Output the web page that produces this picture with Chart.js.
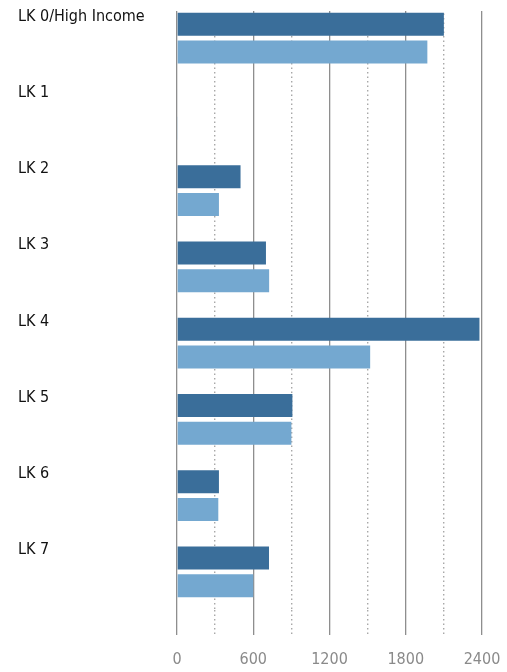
<!DOCTYPE html>
<html>
<head>
<meta charset="utf-8">
<script src="https://cdn.jsdelivr.net/npm/chart.js"></script>
<style>
  body { margin: 0; background: #fff; }
  #wrap { width: 507px; height: 672px; }
</style>
</head>
<body>
<div id="wrap"><canvas id="lkChart"></canvas></div>
<script>
const categories = ["LK 0/High Income", "LK 1", "LK 2", "LK 3", "LK 4", "LK 5", "LK 6", "LK 7"];
const darkValues = [2100, 5, 500, 700, 2380, 908, 330, 724];
const lightValues = [1970, 4, 330, 725, 1520, 900, 325, 600];
const xTicks = [0, 600, 1200, 1800, 2400];

const FONT = "'Liberation Sans Narrow', 'DejaVu Sans Condensed', 'Roboto', sans-serif";

// grid lines in the original start a little below the top edge
const trimTop = {
  id: "trimTop",
  beforeDatasetsDraw(chart) {
    const { ctx, chartArea } = chart;
    ctx.save();
    ctx.fillStyle = "#fff";
    ctx.fillRect(chartArea.left - 2, 0, chartArea.right - chartArea.left + 4, 11);
    ctx.restore();
  },
};

const isMajor = (v) => xTicks.includes(v);

const ctx = document.getElementById("lkChart").getContext("2d");

const chart = new Chart(ctx, {
  type: "bar",
  data: {
    // blank lines push the label up to the top of its band
    labels: categories.map((c) => [c, "", ""]),
    datasets: [
      {
        label: "Series A",
        data: darkValues,
        backgroundColor: "rgb(58, 110, 154)",
        categoryPercentage: 0.73,
        barPercentage: 0.83,
      },
      {
        label: "Series B",
        data: lightValues,
        backgroundColor: "rgb(116, 168, 208)",
        categoryPercentage: 0.73,
        barPercentage: 0.83,
      },
    ],
  },
  options: {
    indexAxis: "y",
    responsive: true,
    maintainAspectRatio: false,
    animation: false,
    layout: {
      padding: { left: 18, right: 25, top: 0, bottom: 0 },
    },
    scales: {
      x: {
        min: 0,
        max: 2400,
        ticks: {
          stepSize: 300,
          autoSkip: false,
          maxRotation: 0,
          minRotation: 0,
          color: "#8a8a8a",
          padding: 15,
          font: { family: FONT, size: 16 },
          callback: (v) => (isMajor(v) ? v : ""),
        },
        grid: {
          color: (c) => (isMajor(c.tick.value) ? "#8e8e8e" : "#a8a8a8"),
          lineWidth: (c) => (isMajor(c.tick.value) ? 1.3 : 1.4),
          tickColor: (c) => (isMajor(c.tick.value) ? "#8e8e8e" : "#a8a8a8"),
          tickWidth: (c) => (isMajor(c.tick.value) ? 1.3 : 1.4),
          tickBorderDash: (c) => (isMajor(c.tick.value) ? [] : [1.5, 3]),
          tickLength: 25,
        },
        border: {
          display: false,
          dash: (c) => (isMajor(c.tick.value) ? [] : [1.5, 3]),
        },
        afterFit: (s) => {
          s.height = 62;
          s.paddingLeft = 0;
          s.paddingRight = 0;
        },
      },
      y: {
        ticks: {
          color: "#111",
          crossAlign: "far",
          font: { family: FONT, size: 16, lineHeight: 1.35 },
        },
        grid: { display: false },
        border: { display: false },
        afterFit: (s) => {
          s.width = 159;
          s.paddingTop = 0;
          s.paddingBottom = 0;
        },
      },
    },
    plugins: {
      legend: { display: false },
      tooltip: { enabled: false },
    },
  },
  plugins: [trimTop],
});
</script>
</body>
</html>
